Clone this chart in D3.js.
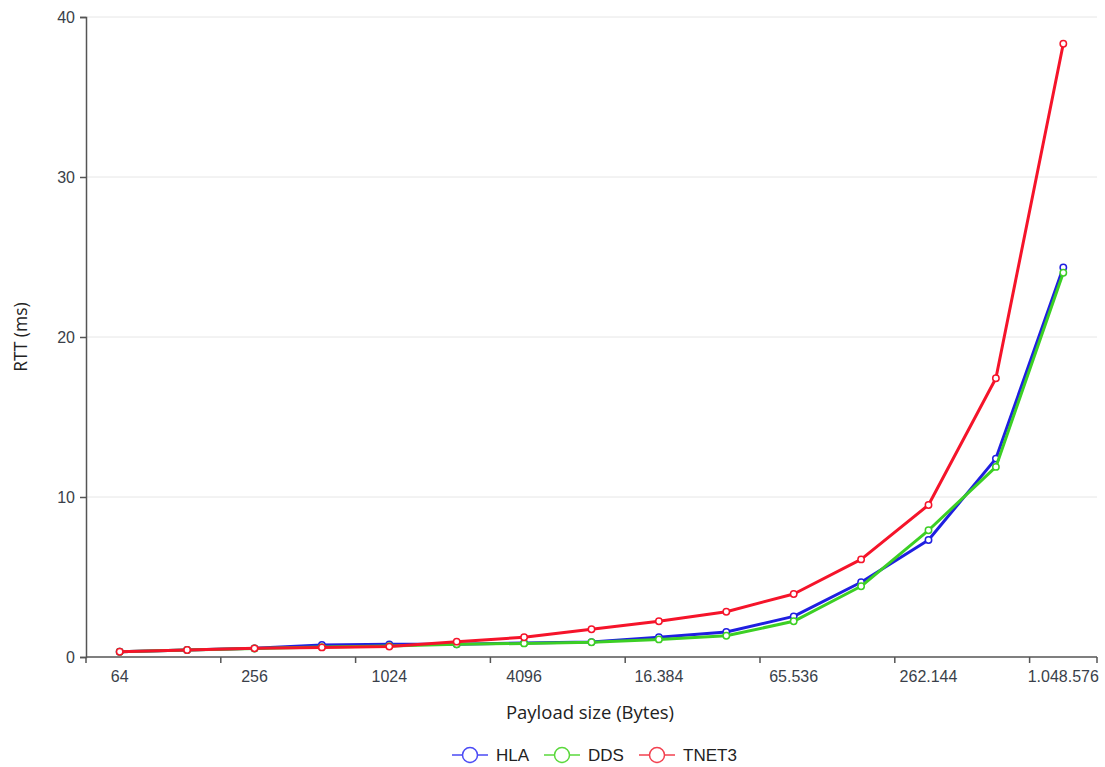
<!DOCTYPE html>
<html>
<head>
<meta charset="utf-8">
<script src="https://cdn.jsdelivr.net/npm/d3@7/dist/d3.min.js"></script>
<style>
  html, body { margin: 0; padding: 0; background: #fff; }
  svg { display: block; }
</style>
</head>
<body>
<svg id="chart" width="1105" height="767"></svg>
<script>
// Payload sizes (bytes), labelled with dot thousands separators
const categories = ["64", "128", "256", "512", "1024", "2048", "4096", "8192",
  "16.384", "32.768", "65.536", "131.072", "262.144", "524.288", "1.048.576"];

// Round-trip times in ms
const hla   = [0.33, 0.44, 0.54, 0.75, 0.79, 0.80, 0.88, 0.93, 1.23, 1.56, 2.54, 4.67, 7.31, 12.4, 24.35];
const dds   = [0.33, 0.44, 0.53, 0.62, 0.68, 0.79, 0.85, 0.92, 1.10, 1.33, 2.23, 4.42, 7.92, 11.88, 24.02];
const tnet3 = [0.33, 0.44, 0.54, 0.60, 0.65, 0.96, 1.23, 1.73, 2.23, 2.83, 3.94, 6.10, 9.50, 17.42, 38.33];

const seriesNames = ["HLA", "DDS", "TNET3"];
const yTicks = [0, 10, 20, 30, 40];

const series = [
  { name: seriesNames[0], values: hla,   color: "#1f1fe0", legend: "#4a4af5" },
  { name: seriesNames[1], values: dds,   color: "#3ccf24", legend: "#5ad83c" },
  { name: seriesNames[2], values: tnet3, color: "#f5142a", legend: "#f2404f" }
];

const svg = d3.select("#chart");
const plotLeft = 86, plotRight = 1097, plotTop = 17, plotBottom = 657;
const tickFont = "'Liberation Sans', Arial, sans-serif";
const titleFont = "'Open Sans', sans-serif";

const x = d3.scaleBand().domain(categories).range([plotLeft, plotRight]).paddingInner(0).paddingOuter(0);
const y = d3.scaleLinear().domain([0, 40]).range([plotBottom, plotTop]);
const cx = c => x(c) + x.bandwidth() / 2;

// horizontal grid lines
svg.append("g").selectAll("line")
  .data(yTicks.filter(d => d > 0))
  .join("line")
  .attr("x1", plotLeft).attr("x2", plotRight)
  .attr("y1", d => y(d)).attr("y2", d => y(d))
  .attr("stroke", "#e6e6e6").attr("stroke-width", 1);

// y axis
const yAxis = svg.append("g").attr("transform", `translate(${plotLeft},0)`)
  .call(d3.axisLeft(y).tickValues(yTicks).tickSize(6).tickPadding(5));
yAxis.select(".domain").attr("stroke", "#555").attr("stroke-width", 1.5);
yAxis.selectAll(".tick line").attr("stroke", "#555").attr("stroke-width", 1.5);
yAxis.selectAll(".tick text")
  .attr("fill", "#3a3f4a")
  .style("font-family", tickFont)
  .style("font-size", "16px");

// x axis: ticks on band boundaries every two categories, labels at band centres
const xAxisG = svg.append("g");
xAxisG.append("line")
  .attr("x1", plotLeft).attr("x2", plotRight)
  .attr("y1", plotBottom).attr("y2", plotBottom)
  .attr("stroke", "#555").attr("stroke-width", 1.5);
const boundaryIdx = d3.range(0, categories.length + 1).filter(i => i % 2 === 0 || i === categories.length);
xAxisG.selectAll("line.tick")
  .data(boundaryIdx)
  .join("line")
  .attr("class", "tick")
  .attr("x1", i => plotLeft + i * x.bandwidth())
  .attr("x2", i => plotLeft + i * x.bandwidth())
  .attr("y1", plotBottom).attr("y2", plotBottom + 6)
  .attr("stroke", "#555").attr("stroke-width", 1.5);
xAxisG.selectAll("text")
  .data(categories.filter((c, i) => i % 2 === 0))
  .join("text")
  .attr("x", c => cx(c))
  .attr("y", plotBottom + 25)
  .attr("text-anchor", "middle")
  .attr("fill", "#3a3f4a")
  .style("font-family", tickFont)
  .style("font-size", "16px")
  .text(c => c);

// axis titles
svg.append("text")
  .attr("x", 590).attr("y", 719)
  .attr("text-anchor", "middle")
  .attr("fill", "#222")
  .style("font-family", titleFont)
  .style("font-size", "18.5px")
  .text("Payload size (Bytes)");
svg.append("text")
  .attr("transform", `translate(27,${(plotTop + plotBottom) / 2}) rotate(-90)`)
  .attr("text-anchor", "middle")
  .attr("fill", "#222")
  .style("font-family", titleFont)
  .style("font-size", "17.5px")
  .text("RTT (ms)");

// series lines and markers
const line = d3.line()
  .x((d, i) => cx(categories[i]))
  .y(d => y(d));

series.forEach(s => {
  const g = svg.append("g");
  g.append("path")
    .attr("d", line(s.values))
    .attr("fill", "none")
    .attr("stroke", s.color)
    .attr("stroke-width", 3)
    .attr("stroke-linejoin", "round");
  g.selectAll("circle")
    .data(s.values)
    .join("circle")
    .attr("cx", (d, i) => cx(categories[i]))
    .attr("cy", d => y(d))
    .attr("r", 3.2)
    .attr("fill", "#fff")
    .attr("stroke", s.color)
    .attr("stroke-width", 1.5);
});

// legend
const legendX = [452, 544, 639];
const legend = svg.append("g");
series.forEach((s, i) => {
  const g = legend.append("g").attr("transform", `translate(${legendX[i]},755)`);
  g.append("line").attr("x1", 0).attr("x2", 36).attr("y1", 0).attr("y2", 0)
    .attr("stroke", s.legend).attr("stroke-width", 1.5);
  g.append("circle").attr("cx", 18).attr("cy", 0).attr("r", 7.5)
    .attr("fill", "#fff").attr("stroke", s.legend).attr("stroke-width", 1.5);
  g.append("text").attr("x", 44).attr("y", 6)
    .attr("fill", "#222")
    .style("font-family", tickFont)
    .style("font-size", "17px")
    .text(s.name);
});
</script>
</body>
</html>
